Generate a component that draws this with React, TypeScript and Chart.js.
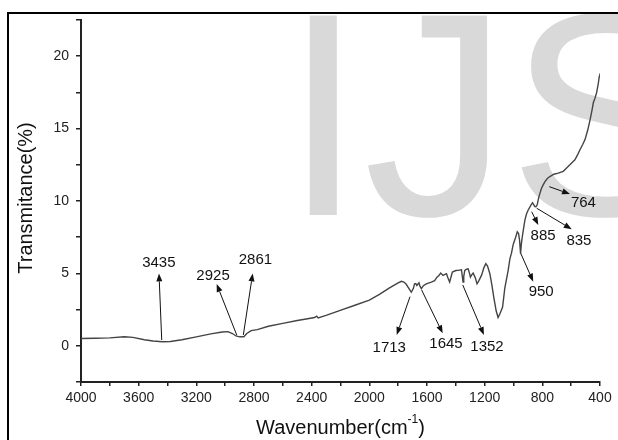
import React, { useEffect, useRef } from 'react';
import { Chart, registerables } from 'chart.js';

Chart.register(...registerables);

// FTIR spectrum: wavenumber (cm-1) and transmittance (%)
const wavenumbers = [
  4000, 3900, 3800, 3700, 3640, 3560, 3500, 3435, 3380, 3300, 3200, 3100, 3020, 2980, 2950, 2925, 2900, 2870, 2850, 2820,
  2777, 2700, 2600, 2500, 2438, 2380, 2365, 2355, 2300, 2207, 2100, 2000, 1930, 1860, 1800, 1778, 1760, 1744, 1725, 1709,
  1695, 1686, 1678, 1670, 1656, 1648, 1639, 1625, 1605, 1570, 1547, 1531, 1517, 1505, 1489, 1465, 1455, 1443, 1432, 1424,
  1400, 1384, 1361, 1355, 1350, 1345, 1338, 1325, 1315, 1305, 1299, 1290, 1280, 1265, 1253, 1240, 1222, 1205, 1192, 1180,
  1164, 1150, 1137, 1120, 1107, 1095, 1076, 1060, 1037, 1025, 1014, 1002, 985, 974, 965, 958, 951, 946, 938, 921,
  910, 898, 880, 868, 860, 852, 845, 836, 826, 817, 805, 794, 782, 765, 748, 720, 690, 670, 655, 630,
  609, 590, 574, 555, 539, 520, 504, 485, 469, 455, 446, 435, 423, 412, 405, 401,
];
const transmittance = [
  0.5, 0.52, 0.55, 0.62, 0.58, 0.42, 0.33, 0.28, 0.3, 0.42, 0.62, 0.82, 0.95, 0.98, 0.85, 0.68, 0.62, 0.62, 0.85, 1.05,
  1.12, 1.35, 1.55, 1.75, 1.85, 1.95, 2.05, 1.92, 2.1, 2.43, 2.8, 3.15, 3.55, 4.0, 4.35, 4.45, 4.4, 4.25, 3.95, 3.7,
  3.95, 4.28, 4.3, 4.17, 4.35, 4.1, 3.94, 4.15, 4.28, 4.4, 4.5, 4.74, 4.86, 5.02, 4.86, 4.98, 4.7, 4.4, 4.8, 5.09,
  5.2, 5.21, 5.25, 4.8, 4.4, 4.8, 5.21, 5.3, 5.32, 5.0, 4.74, 4.9, 5.02, 4.7, 4.28, 4.5, 4.86, 5.4, 5.67, 5.5,
  4.98, 4.2, 3.36, 2.4, 1.95, 2.2, 2.66, 4.0, 5.21, 6.0, 6.4, 7.0, 7.5, 7.87, 7.75, 7.3, 6.36, 7.0, 7.6, 8.68,
  9.1, 9.38, 9.7, 9.88, 9.75, 9.61, 9.6, 9.72, 10.2, 10.53, 10.9, 11.11, 11.34, 11.55, 11.69, 11.85, 11.92, 12.0, 12.05, 12.3,
  12.5, 12.7, 12.85, 13.2, 13.54, 13.9, 14.24, 14.9, 15.6, 16.3, 16.8, 17.1, 17.5, 18.1, 18.6, 18.8,
];

// Peak annotations (data units): arrow start on curve, arrow tip, label centre
const peakLabels = ['3435', '2925', '2861', '1713', '1645', '1352', '950', '885', '835', '764'];
const arrowFromX = [3440, 2920, 2874, 1718, 1637, 1352, 950, 874, 839, 752];
const arrowFromY = [0.4, 0.75, 0.75, 3.39, 3.85, 4.2, 6.39, 9.26, 9.5, 10.99];
const arrowTipX = [3459, 3059, 2809, 1810, 1491, 1205, 863, 828, 596, 608];
const arrowTipY = [5.0, 4.27, 5.0, 0.75, 0.86, 0.75, 4.43, 8.34, 8.05, 10.48];
const labelX = [3460, 3084, 2790, 1862, 1468, 1184, 808, 795, 546, 515];
const labelY = [5.7, 4.8, 5.93, -0.17, 0.12, -0.06, 3.74, 7.56, 7.27, 9.84];

const xTitle = 'Wavenumber(cm';
const xTitleSup = '-1';
const yTitle = 'Transmitance(%)';
const watermark = 'IJS';

const FONT = '"Liberation Sans", Arial, sans-serif';

const backgroundPlugin = {
  id: 'bg',
  beforeDraw(chart: any) {
    const ctx = chart.ctx;
    ctx.save();
    ctx.fillStyle = '#ffffff';
    ctx.fillRect(0, 0, chart.width, chart.height);
    ctx.fillStyle = '#d9d9d9';
    ctx.font = `290px ${FONT}`;
    ctx.textBaseline = 'alphabetic';
    ctx.textAlign = 'left';
    ctx.fillText(watermark, 283, 215);
    ctx.fillStyle = '#000000';
    ctx.fillRect(7, 12, 2, chart.height);
    ctx.fillRect(7, 12, chart.width, 2);
    ctx.restore();
  },
};

const annotationPlugin = {
  id: 'peaks',
  afterDatasetsDraw(chart: any) {
    const ctx = chart.ctx;
    const xs = chart.scales.x;
    const ys = chart.scales.y;
    ctx.save();
    ctx.strokeStyle = '#111';
    ctx.fillStyle = '#111';
    ctx.lineWidth = 1;
    for (let i = 0; i < peakLabels.length; i++) {
      const x0 = xs.getPixelForValue(arrowFromX[i]);
      const y0 = ys.getPixelForValue(arrowFromY[i]);
      const x1 = xs.getPixelForValue(arrowTipX[i]);
      const y1 = ys.getPixelForValue(arrowTipY[i]);
      const ang = Math.atan2(y1 - y0, x1 - x0);
      const len = 8;
      const hw = 3;
      const bx = x1 - len * Math.cos(ang);
      const by = y1 - len * Math.sin(ang);
      ctx.beginPath();
      ctx.moveTo(x0, y0);
      ctx.lineTo(bx, by);
      ctx.stroke();
      ctx.beginPath();
      ctx.moveTo(x1, y1);
      ctx.lineTo(bx + hw * Math.sin(ang), by - hw * Math.cos(ang));
      ctx.lineTo(bx - hw * Math.sin(ang), by + hw * Math.cos(ang));
      ctx.closePath();
      ctx.fill();
      ctx.font = `15px ${FONT}`;
      ctx.textAlign = 'center';
      ctx.textBaseline = 'middle';
      ctx.fillText(peakLabels[i], xs.getPixelForValue(labelX[i]), ys.getPixelForValue(labelY[i]));
    }
    ctx.restore();
  },
};

const titlePlugin = {
  id: 'titles',
  afterDraw(chart: any) {
    const ctx = chart.ctx;
    const area = chart.chartArea;
    ctx.save();
    ctx.fillStyle = '#111';
    ctx.textBaseline = 'middle';
    // x title with superscript
    ctx.font = `20px ${FONT}`;
    const w1 = ctx.measureText(xTitle).width;
    ctx.font = `12px ${FONT}`;
    const w2 = ctx.measureText(xTitleSup).width;
    ctx.font = `20px ${FONT}`;
    const w3 = ctx.measureText(')').width;
    const total = w1 + w2 + w3;
    let x = (area.left + area.right) / 2 - total / 2;
    const y = 428;
    ctx.textAlign = 'left';
    ctx.fillText(xTitle, x, y);
    x += w1;
    ctx.font = `12px ${FONT}`;
    ctx.fillText(xTitleSup, x, y - 8);
    x += w2;
    ctx.font = `20px ${FONT}`;
    ctx.fillText(')', x, y);
    // y title
    ctx.translate(26, 198);
    ctx.rotate(-Math.PI / 2);
    ctx.textAlign = 'center';
    ctx.fillText(yTitle, 0, 0);
    ctx.restore();
  },
};

export default function App() {
  const ref = useRef<HTMLCanvasElement>(null);
  useEffect(() => {
    const canvas = ref.current;
    if (!canvas) return;
    const points = wavenumbers.map((w, i) => ({ x: w, y: transmittance[i] }));
    const chart = new Chart(canvas, {
      type: 'line',
      data: {
        datasets: [
          {
            data: points,
            borderColor: '#444444',
            borderWidth: 1.4,
            pointRadius: 0,
            tension: 0,
            fill: false,
          },
        ],
      },
      options: {
        animation: false,
        responsive: false,
        layout: { padding: { left: 0, top: 20, right: 18, bottom: 0 } },
        plugins: { legend: { display: false }, tooltip: { enabled: false } },
        scales: {
          x: {
            type: 'linear',
            reverse: true,
            min: 400,
            max: 4000,
            ticks: {
              stepSize: 200,
              autoSkip: false,
              maxRotation: 0,
              padding: 4,
              color: '#222',
              font: { family: FONT, size: 14 },
              callback: (v: any) => (Number(v) % 400 === 0 ? String(v) : ''),
            },
            grid: { drawOnChartArea: false, drawTicks: true, tickLength: 4, color: '#222', lineWidth: 1.5 },
            border: { display: true, color: '#222', width: 2 },
            afterFit: (s: any) => {
              s.height = 58;
            },
          },
          y: {
            type: 'linear',
            min: -2.5,
            max: 22.5,
            ticks: {
              stepSize: 2.5,
              autoSkip: false,
              padding: 7,
              color: '#222',
              font: { family: FONT, size: 14 },
              callback: (v: any) => (Number(v) % 5 === 0 ? String(v) : ''),
            },
            grid: { drawOnChartArea: false, drawTicks: true, tickLength: 5, color: '#222', lineWidth: 1.5 },
            border: { display: true, color: '#222', width: 2 },
            afterFit: (s: any) => {
              s.width = 81;
            },
          },
        },
      },
      plugins: [backgroundPlugin, annotationPlugin, titlePlugin],
    });
    return () => chart.destroy();
  }, []);
  return (
    <div style={{ position: 'fixed', left: 0, top: 0, width: 618, height: 440, overflow: 'hidden', background: '#fff' }}>
      <canvas ref={ref} width={618} height={440} style={{ display: 'block', width: 618, height: 440 }} />
    </div>
  );
}
